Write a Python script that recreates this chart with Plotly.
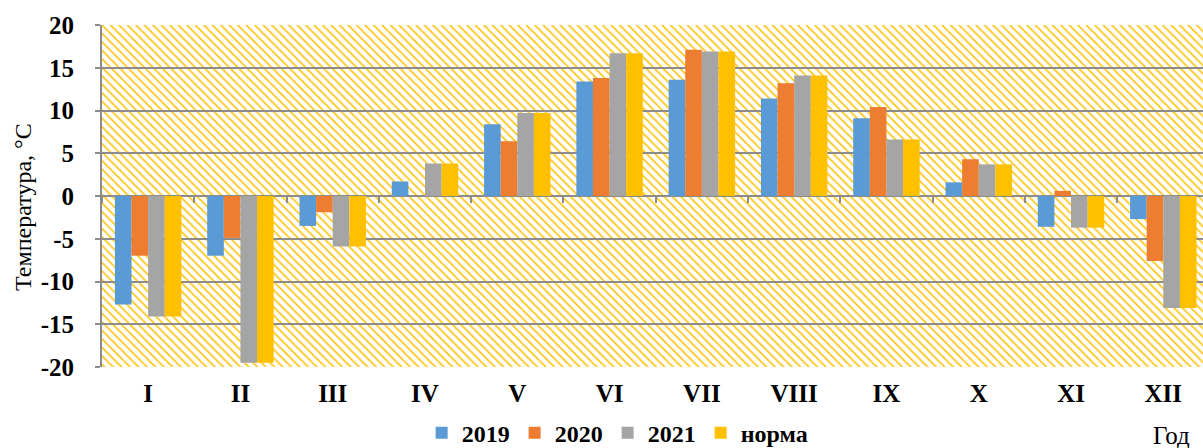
import plotly.graph_objects as go

months = ["I", "II", "III", "IV", "V", "VI", "VII", "VIII", "IX", "X", "XI", "XII"]
t2019 = [-12.7, -7.0, -3.5, 1.7, 8.4, 13.4, 13.6, 11.4, 9.1, 1.6, -3.6, -2.7]
t2020 = [-7.0, -4.9, -1.9, 0.0, 6.4, 13.8, 17.1, 13.2, 10.4, 4.3, 0.6, -7.6]
t2021 = [-14.1, -19.5, -5.9, 3.8, 9.7, 16.7, 16.9, 14.1, 6.6, 3.7, -3.7, -13.1]
norma = [-14.1, -19.5, -5.9, 3.8, 9.7, 16.7, 16.9, 14.1, 6.6, 3.7, -3.7, -13.1]
series_names = ["2019", "2020", "2021", "норма"]
series_colors = ["#5B9BD5", "#ED7D31", "#A5A5A5", "#FFC000"]
y_ticks = [-20, -15, -10, -5, 0, 5, 10, 15, 20]
y_ticktext = ["-20", "-15", "-10", "-5", "0", "5", "10", "15", "20"]

GRID = "#8C8C8C"
SERIF = "Liberation Serif"

fig = go.Figure()

# patterned plot-area background (drawn in the lower subplot)
fig.add_trace(go.Scatter(
    x=[0, 1, 1, 0, 0], y=[0, 0, 1, 1, 0],
    xaxis="x", yaxis="y",
    mode="lines", fill="toself",
    line=dict(width=0, color="rgba(0,0,0,0)"),
    fillcolor="white",
    fillpattern=dict(shape="\\", fgcolor="#FFC000", bgcolor="white",
                     size=6, solidity=0.3, fgopacity=0.9, fillmode="replace"),
    hoverinfo="skip", showlegend=False,
))

for name, vals, col in zip(series_names, [t2019, t2020, t2021, norma], series_colors):
    fig.add_trace(go.Bar(
        x=months, y=vals, name=name, xaxis="x2", yaxis="y2",
        marker=dict(color=col, line=dict(width=0)),
    ))

fig.update_layout(
    width=1203, height=448,
    margin=dict(l=102, r=0, t=25, b=81),
    paper_bgcolor="white", plot_bgcolor="rgba(0,0,0,0)",
    barmode="group", bargap=0.28, bargroupgap=0,
    xaxis=dict(domain=[0, 1], range=[0, 1], visible=False, fixedrange=True),
    yaxis=dict(domain=[0, 1], range=[0, 1], visible=False, fixedrange=True),
    xaxis2=dict(
        domain=[0, 1], anchor="free", position=0.5, type="category",
        categoryorder="array", categoryarray=months, automargin=False,
        range=[-0.5, 11.43], showgrid=False, zeroline=False, showline=False,
        ticks="outside", ticklen=6, tickwidth=2, tickcolor=GRID,
        tickson="boundaries", ticklabelstandoff=180,
        tickfont=dict(family=SERIF, size=25, color="black", weight="bold"),
    ),
    yaxis2=dict(
        domain=[0, 1], anchor="x2", range=[-20, 20],
        tickmode="array", tickvals=y_ticks, ticktext=y_ticktext,
        automargin=False,
        showgrid=True, gridcolor=GRID, gridwidth=2,
        zeroline=True, zerolinecolor=GRID, zerolinewidth=2,
        showline=True, linecolor=GRID, linewidth=2,
        ticks="outside", ticklen=5, tickwidth=2, tickcolor=GRID,
        ticklabelstandoff=16,
        tickfont=dict(family=SERIF, size=25, color="black", weight="bold"),
    ),
    legend=dict(
        orientation="h", xref="container", yref="container",
        x=0.513, xanchor="center", y=0.033, yanchor="middle",
        font=dict(family=SERIF, size=24, color="black", weight="bold"),
        bgcolor="rgba(0,0,0,0)", traceorder="normal",
    ),
    annotations=[
        dict(text="Температура, °C", xref="paper", yref="paper",
             x=-0.0718, y=0.468, xanchor="center", yanchor="middle",
             textangle=-90, showarrow=False,
             font=dict(family=SERIF, size=24, color="black")),
        dict(text="Год", xref="paper", yref="paper",
             x=0.971, y=-0.2, xanchor="center", yanchor="middle",
             showarrow=False,
             font=dict(family=SERIF, size=25, color="black")),
    ],
)

fig.write_html("out.html", config={"displayModeBar": False},
               post_script="document.body.style.margin='0';")
